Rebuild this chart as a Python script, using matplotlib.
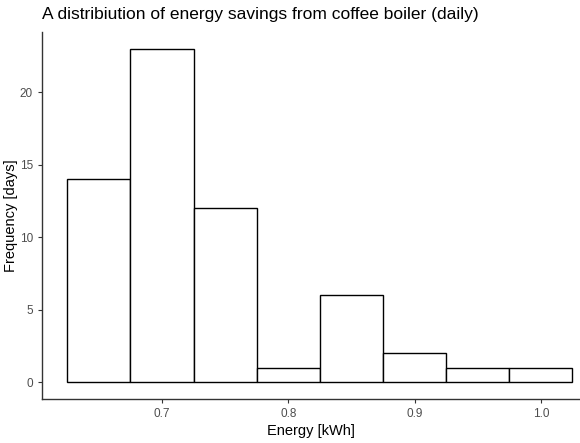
import matplotlib.pyplot as plt
import numpy as np

plt.rcParams["font.family"] = ["Liberation Sans", "DejaVu Sans"]

# histogram bins (kWh) and counts (days)
bin_edges = [0.625, 0.675, 0.725, 0.775, 0.825, 0.875, 0.925, 0.975, 1.025]
counts = [14, 23, 12, 1, 6, 2, 1, 1]
x_ticks = [0.7, 0.8, 0.9, 1.0]
x_tick_labels = ["0.7", "0.8", "0.9", "1.0"]
y_ticks = [0, 5, 10, 15, 20]

fig = plt.figure(figsize=(5.8, 4.43), dpi=100)
ax = fig.add_axes([42 / 580, 44 / 443, 538 / 580, 367 / 443])

edges = np.array(bin_edges)
ax.bar(edges[:-1], counts, width=np.diff(edges), align="edge",
       color="white", edgecolor="black", linewidth=1.0)

ax.set_xlim(0.605, 1.031)
ax.set_ylim(-1.15, 24.15)
ax.set_xticks(x_ticks)
ax.set_xticklabels(x_tick_labels)
ax.set_yticks(y_ticks)

for side in ["top", "right"]:
    ax.spines[side].set_visible(False)
for side in ["left", "bottom"]:
    ax.spines[side].set_color("#333333")
    ax.spines[side].set_linewidth(1.0)

ax.tick_params(axis="both", colors="#333333", labelcolor="#4D4D4D",
               labelsize=8.5, length=3, width=0.8)

ax.set_xlabel("Energy [kWh]", fontsize=10.5, labelpad=3)
ax.set_ylabel("Frequency [days]", fontsize=10.5, labelpad=1)
fig.text(42 / 580, 1 - 14 / 443, "A distribiution of energy savings from coffee boiler (daily)",
         fontsize=12.5, ha="left", va="center")

fig.savefig("out.png", dpi=100)
